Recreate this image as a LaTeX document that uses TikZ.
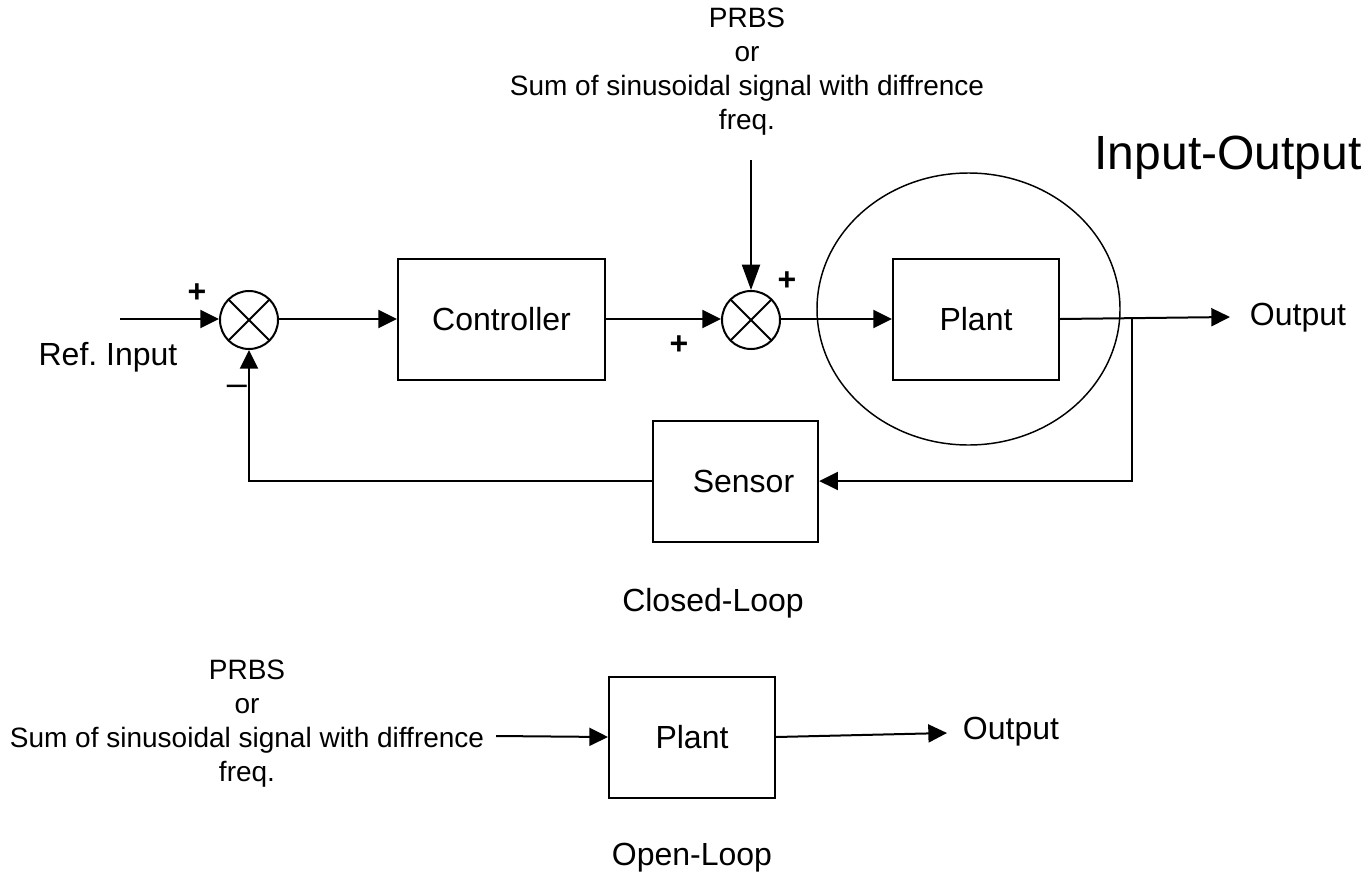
\documentclass[tikz,border=0pt]{standalone}
\usepackage{fontspec}
\setmainfont{Liberation Sans}
\usetikzlibrary{arrows.meta,shapes.geometric,calc}
\newcommand{\lblfont}{\fontsize{24}{28}\selectfont}
\newcommand{\smallfont}{\fontsize{21}{25.5}\selectfont}
\newcommand{\bigfont}{\fontsize{36}{42}\selectfont}
\begin{document}
\begin{tikzpicture}[x=0.75pt,y=-0.75pt,
  line width=1.5pt,
  arr/.style={-{Triangle[length=14pt,width=13.5pt]}},
  arrlong/.style={-{Triangle[length=19pt,width=13.5pt]}},
  block/.style={draw, minimum width=#1, minimum height=90.75pt, inner sep=0pt, font=\lblfont},
  lbl/.style={font=\lblfont, inner sep=0pt},
  smalltxt/.style={font=\smallfont, align=center, inner sep=0pt},
  plussign/.style={font=\lblfont\bfseries, inner sep=0pt},
  minussign/.style={font=\fontsize{27}{30}\selectfont, inner sep=0pt},
  sumnode/.style={draw, circle, minimum size=43.5pt, inner sep=0pt,
    path picture={
      \draw[line width=1.5pt] ($(path picture bounding box.center)+(45:30pt)$) -- ($(path picture bounding box.center)+(225:30pt)$);
      \draw[line width=1.5pt] ($(path picture bounding box.center)+(135:30pt)$) -- ($(path picture bounding box.center)+(315:30pt)$);
    }},
]
\useasboundingbox (0,0) rectangle (1370,885);

% blocks
\node[block=155.25pt] (ctrl) at (501.5,319) {Controller};
\node[block=124.5pt] (plant) at (976,319) {Plant};
\node[block=124pt] (sensor) at (735.5,481) {\hspace{12pt}Sensor};
\node[block=124.5pt] (plant2) at (692,737) {Plant};
\node[sumnode] (s1) at (249,320) {};
\node[sumnode] (s2) at (751,320) {};
\node[draw, ellipse, minimum width=227.25pt, minimum height=204pt, inner sep=0pt, line width=1.1pt] (io) at (968.5,309) {};

% texts
\node[lbl] (ref) at (108,357) {Ref.\ Input};
\node[lbl] (out1) at (1298,318) {Output};
\node[lbl] (out2) at (1011,732) {Output};
\node[lbl] (cl) at (713,603) {Closed-Loop};
\node[lbl] (ol) at (692,858) {Open-Loop};
\node[font=\bigfont, inner sep=0pt] (iot) at (1228,158) {Input-Output};
\node[smalltxt] (sig1) at (747,72) {PRBS\\or\\Sum of sinusoidal signal with diffrence\\freq.};
\node[smalltxt] (sig2) at (247,724) {PRBS\\or\\Sum of sinusoidal signal with diffrence\\freq.};
\node[plussign] (p1) at (197,293) {+};
\node[plussign] (p2) at (787,281) {+};
\node[plussign] (p3) at (679,345) {+};
\node[minussign] (m1) at (237,390) {–};

% coordinates
\coordinate (in1) at (120,319);
\coordinate (tip1) at (1230,317);
\coordinate (br) at (1132,318.5);
\coordinate (sigtop) at (751,160);
\coordinate (in2) at (496,736);
\coordinate (tip2) at (947,733);

% connectors
\draw[arr] (in1) -- (s1.west |- in1);
\draw[arr] (s1.east |- ctrl.west) -- (ctrl.west);
\draw[arr] (ctrl.east) -- (s2.west |- ctrl.east);
\draw[arrlong] (sigtop) -- (s2.north);
\draw[arr] (s2.east |- plant.west) -- (plant.west);
\draw[arr] (plant.east) -- (tip1);
\draw[arr] (br) |- (sensor.east);
\draw[arr] (sensor.west) -| (s1.south);
\draw[arr] (in2) -- (plant2.west);
\draw[arr] (plant2.east) -- (tip2);
\end{tikzpicture}
\end{document}
